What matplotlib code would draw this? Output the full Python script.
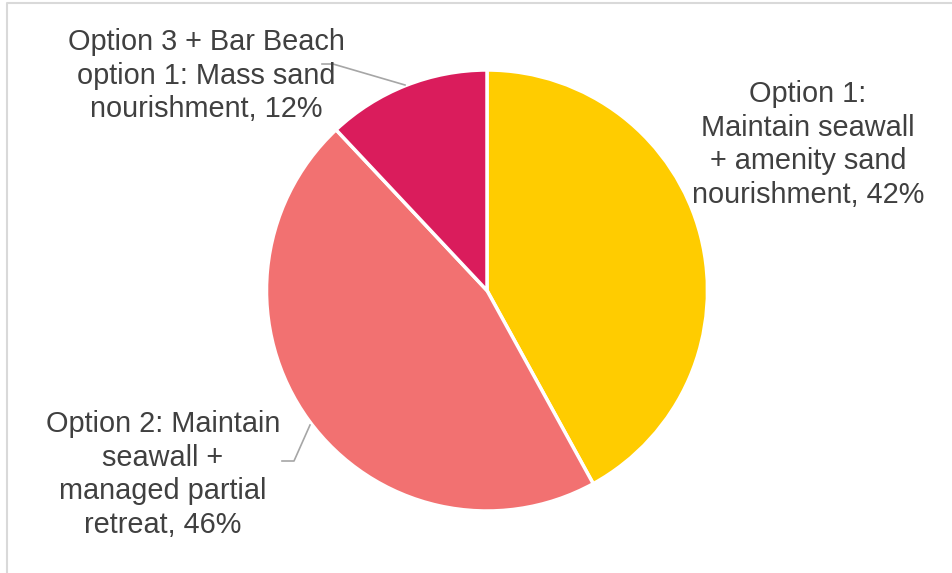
import matplotlib
matplotlib.use("Agg")
import matplotlib.pyplot as plt

labels = ["Option 1:\nMaintain seawall\n+ amenity sand\nnourishment, 42%",
          "Option 2: Maintain\nseawall +\nmanaged partial\nretreat, 46%",
          "Option 3 + Bar Beach\noption 1: Mass sand\nnourishment, 12%"]
values = [42, 46, 12]
colors = ["#FFCC00", "#F27171", "#DA1C5C"]

W, H = 952, 573
fig = plt.figure(figsize=(W / 100, H / 100), dpi=100)
ax = fig.add_axes([0, 0, 1, 1])

def Y(y):
    return H - y

# chart border (top and left visible)
ax.plot([7, 7, W + 5], [Y(H + 5), Y(3), Y(3)], color="#D9D9D9", lw=1.5, solid_capstyle="butt")

ax.pie(values, colors=colors, startangle=90, counterclock=False,
       center=(487, Y(290.5)), radius=220.5, frame=True,
       wedgeprops=dict(edgecolor="white", linewidth=2.5))
ax.set_xlim(0, W)
ax.set_ylim(0, H)
ax.axis("off")

tc = "#404040"
fs = 20.8
font = "Liberation Sans"
ls = 1.25
ax.text(808, Y(144.5), labels[0], ha="center", va="center", fontsize=fs, color=tc,
        family=font, linespacing=ls)
ax.text(163, Y(474.5), labels[1], ha="center", va="center", fontsize=fs, color=tc,
        family=font, linespacing=ls)
ax.text(206, Y(75.5), labels[2], ha="center", va="center", fontsize=fs, color=tc,
        family=font, linespacing=ls)

# leader lines
ax.plot([322, 333, 405], [Y(64), Y(64), Y(85)], color="#A6A6A6", lw=1.2)
ax.plot([282, 294, 310], [Y(461), Y(461), Y(425)], color="#A6A6A6", lw=1.2)

fig.savefig("out.png", dpi=100)
